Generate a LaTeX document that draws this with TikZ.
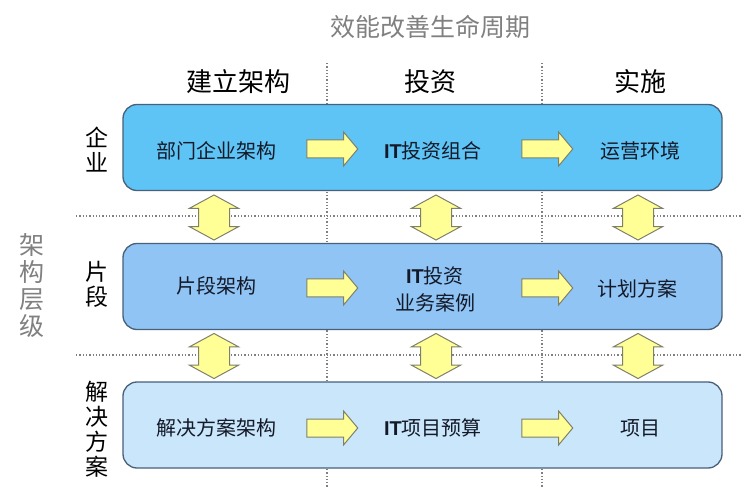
\documentclass[tikz,border=0pt]{standalone}
\usepackage{fontspec}
\setmainfont{Noto Sans CJK SC}
\newfontfamily\latinfont{Liberation Sans}
\usetikzlibrary{shapes.arrows,positioning}

\definecolor{toplayer}{RGB}{94,195,245}
\definecolor{midlayer}{RGB}{143,196,245}
\definecolor{lowlayer}{RGB}{201,230,251}
\definecolor{layerline}{RGB}{72,96,120}
\definecolor{arrowfill}{RGB}{255,255,150}
\definecolor{arrowline}{RGB}{128,128,105}
\definecolor{labeltext}{RGB}{20,25,40}

\newcommand{\IT}{{\latinfont\bfseries IT}}

\begin{document}
\begin{tikzpicture}
[
x=1pt, y=-1pt,
every node/.style={inner sep=0pt},
layer/.style={draw=layerline, line width=1.3pt, rounded corners=14pt, minimum width=599pt, minimum height=86pt},
boxlabel/.style={font=\fontsize{20}{27}\selectfont, text=labeltext, align=center},
colhead/.style={font=\fontsize{26}{30}\selectfont},
rowhead/.style={font=\fontsize{23}{25}\selectfont, align=center},
rarrow/.style={single arrow, draw=arrowline, fill=arrowfill, line width=1pt, inner xsep=0pt, inner ysep=8.5pt, minimum height=51pt, single arrow head extend=8pt, single arrow tip angle=100},
updown/.style={double arrow, rotate=90, draw=arrowline, fill=arrowfill, line width=1pt, inner xsep=0pt, inner ysep=15pt, minimum height=45pt, double arrow head extend=9pt, double arrow tip angle=123},
grid/.style={dotted, line width=1.3pt, color=gray}
]
\useasboundingbox (0,0) rectangle (742,497);

% dotted grid behind the layers
\coordinate (v1top) at (327,63);
\coordinate (v1bot) at (327,488);
\coordinate (v2top) at (542,63);
\coordinate (v2bot) at (542,488);
\coordinate (h1left) at (76,216);
\coordinate (h1right) at (742,216);
\coordinate (h2left) at (76,355);
\coordinate (h2right) at (742,355);
\draw[grid] (v1top) -- (v1bot);
\draw[grid] (v2top) -- (v2bot);
\draw[grid] (h1left) -- (h1right);
\draw[grid] (h2left) -- (h2right);

\node[font=\fontsize{25}{30}\selectfont, text=gray] (cycle) at (430,27) {效能改善生命周期};
\node[colhead] (build) at (238,82) {建立架构};
\node[colhead] (invest) at (430,82) {投资};
\node[colhead] (run) at (640,82) {实施};

\node[rowhead, font=\fontsize{25}{27}\selectfont, text=gray] (levels) at (32,286) {架\\构\\层\\级};
\node[rowhead] (enterprise) at (97,150) {企\\业};
\node[rowhead] (segment) at (97,284) {片\\段};
\node[rowhead] (solution) at (97,429) {解\\决\\方\\案};

\node[layer, fill=toplayer] (ent) at (422.5,147.5) {};
\node[layer, fill=midlayer] (seg) at (422.5,286.5) {};
\node[layer, fill=lowlayer] (sol) at (422.5,425) {};

\node[boxlabel] (ea) at (216,151) {部门企业架构};
\node[boxlabel] (portfolio) at (433,151) {\IT 投资组合};
\node[boxlabel] (opsenv) at (640,151) {运营环境};
\node[boxlabel] (sa) at (216,286) {片段架构};
\node[boxlabel] (bizcase) at (435,289) {\IT 投资\\业务案例};
\node[boxlabel] (plan) at (637,289) {计划方案};
\node[boxlabel] (soa) at (216,428) {解决方案架构};
\node[boxlabel] (budget) at (433,428) {\IT 项目预算};
\node[boxlabel] (project) at (640,428) {项目};

\node[rarrow] (ra1) at (328.5,149) {};
\node[rarrow] (ra2) at (543.5,149) {};
\node[rarrow] (ra3) at (328.5,288) {};
\node[rarrow] (ra4) at (543.5,288) {};
\node[rarrow] (ra5) at (328.5,428) {};
\node[rarrow] (ra6) at (543.5,428) {};

\node[updown] (ud1) at (214,217.5) {};
\node[updown] (ud2) at (436,217.5) {};
\node[updown] (ud3) at (638,217.5) {};
\node[updown] (ud4) at (214,356) {};
\node[updown] (ud5) at (436,356) {};
\node[updown] (ud6) at (638,356) {};
\end{tikzpicture}
\end{document}
